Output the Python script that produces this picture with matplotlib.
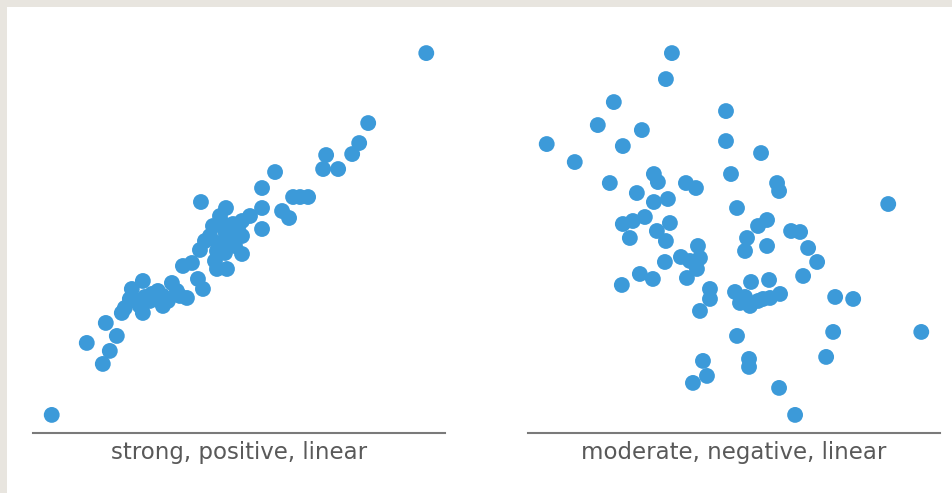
import matplotlib
matplotlib.use("Agg")
import matplotlib.pyplot as plt
from matplotlib.patches import Rectangle

# Left panel: strong, positive, linear
pos_x = [37.4, 31.6, 30.7, 30.0, 27.4, 27.1, 28.6, 22.3, 21.0, 24.1, 24.8, 25.6,
         14.9, 23.0, 23.7, 21.0, 17.4, 19.8, 16.8, 19.0, 18.1, 21.0, 16.1, 15.8,
         17.3, 17.8, 19.0, 16.6, 14.8, 16.5, 17.3, 19.0, 13.1, 14.0, 16.5, 17.5,
         16.3, 9.1, 8.0, 12.0, 14.6, 15.1, 13.5, 11.1, 11.1, 10.0, 7.3, 8.5, 9.1,
         12.5, 5.4, 6.5, 3.5, 5.8, 5.1, 0.0,
         17.6, 18.3, 17.0, 18.6, 15.3, 8.8, 9.8, 7.8, 10.6, 12.8, 11.6, 9.3, 7.0]
pos_y = [36.2, 29.2, 27.2, 26.1, 26.0, 24.6, 24.6, 24.3, 22.7, 21.8, 21.8, 21.8,
         21.3, 20.4, 19.7, 20.7, 20.7, 19.9, 19.9, 19.4, 19.1, 18.6, 18.9, 17.9,
         18.4, 18.1, 17.9, 17.2, 16.5, 16.4, 16.2, 16.1, 14.9, 15.2, 14.6, 14.6,
         15.4, 13.4, 12.6, 13.2, 13.6, 12.6, 11.7, 11.9, 10.9, 12.1, 10.7, 11.4, 10.2,
         12.4, 9.2, 7.9, 7.2, 6.4, 5.1, 0.0,
         17.4, 16.9, 19.2, 18.6, 17.4, 10.9, 11.4, 11.6, 12.4, 11.9, 11.4, 11.8, 10.2]

# Right panel: moderate, negative, linear
neg_x = [12.5, 11.9, 6.7, 5.1, 9.5, 0.0, 7.6, 17.9, 17.9, 21.4, 2.8, 18.4,
         6.3, 10.7, 11.1, 13.9, 14.9, 9.0, 23.0, 23.2, 10.7, 12.1, 19.0, 34.1,
         7.6, 8.6, 9.8, 12.3, 11.0, 11.9, 21.1, 22.0, 24.4, 25.3, 8.3, 11.8,
         13.4, 14.3, 15.1, 15.3, 15.0, 14.0, 20.0, 19.8, 22.0, 26.1, 27.0, 25.6,
         9.3, 10.6, 7.5, 20.4, 22.2, 18.8, 19.3, 20.3, 21.1, 22.3, 23.3, 16.3,
         16.3, 15.3, 28.8, 30.6, 19.0, 28.6, 37.4, 27.9, 15.6, 16.0, 14.6, 20.2,
         20.2, 23.2, 24.8, 19.8, 21.6]
neg_y = [36.2, 33.6, 31.3, 29.0, 28.5, 27.1, 26.9, 30.4, 27.4, 26.2, 25.3, 24.1,
         23.2, 24.1, 23.3, 23.2, 22.7, 22.2, 23.2, 22.4, 21.3, 21.6, 20.7, 21.1,
         19.1, 19.4, 19.8, 19.2, 18.4, 17.4, 18.9, 19.5, 18.4, 18.3, 17.7, 15.3,
         15.8, 15.4, 16.9, 15.7, 14.6, 13.7, 17.7, 16.4, 16.9, 16.7, 15.3, 13.9,
         14.1, 13.6, 13.0, 13.3, 13.5, 12.3, 11.2, 10.9, 11.4, 11.7, 12.1, 12.6,
         11.6, 10.4, 11.8, 11.6, 7.9, 8.3, 8.3, 5.8, 5.4, 3.9, 3.2, 5.6,
         4.8, 2.7, 0.0, 11.8, 11.6]

titles = ["strong, positive, linear", "moderate, negative, linear"]

DOT = "#3c9ad9"
W, H = 953, 493
fig = plt.figure(figsize=(W / 100, H / 100), dpi=100)
fig.patch.set_facecolor("#e8e5df")
fig.patches.append(Rectangle((7 / W, 0), 1 - 7 / W, 1 - 7 / H,
                             transform=fig.transFigure, facecolor="white",
                             edgecolor="none", zorder=-10))

ax1 = fig.add_axes([33 / W, 60 / H, 412 / W, 398 / H])
ax2 = fig.add_axes([528 / W, 60 / H, 412 / W, 398 / H])

for ax, xs, ys, t in [(ax1, pos_x, pos_y, titles[0]), (ax2, neg_x, neg_y, titles[1])]:
    ax.set_zorder(5)
    ax.patch.set_visible(False)
    ax.scatter(xs, ys, s=130, color=DOT, edgecolors="none", zorder=3)
    for side in ["top", "right", "left"]:
        ax.spines[side].set_visible(False)
    ax.spines["bottom"].set_color("#7a7a7a")
    ax.spines["bottom"].set_linewidth(1.5)
    ax.set_xticks([])
    ax.set_yticks([])
    ax.set_xlabel(t, fontsize=16.5, color="#595959", labelpad=6)

fig.savefig("out.png", dpi=100)
